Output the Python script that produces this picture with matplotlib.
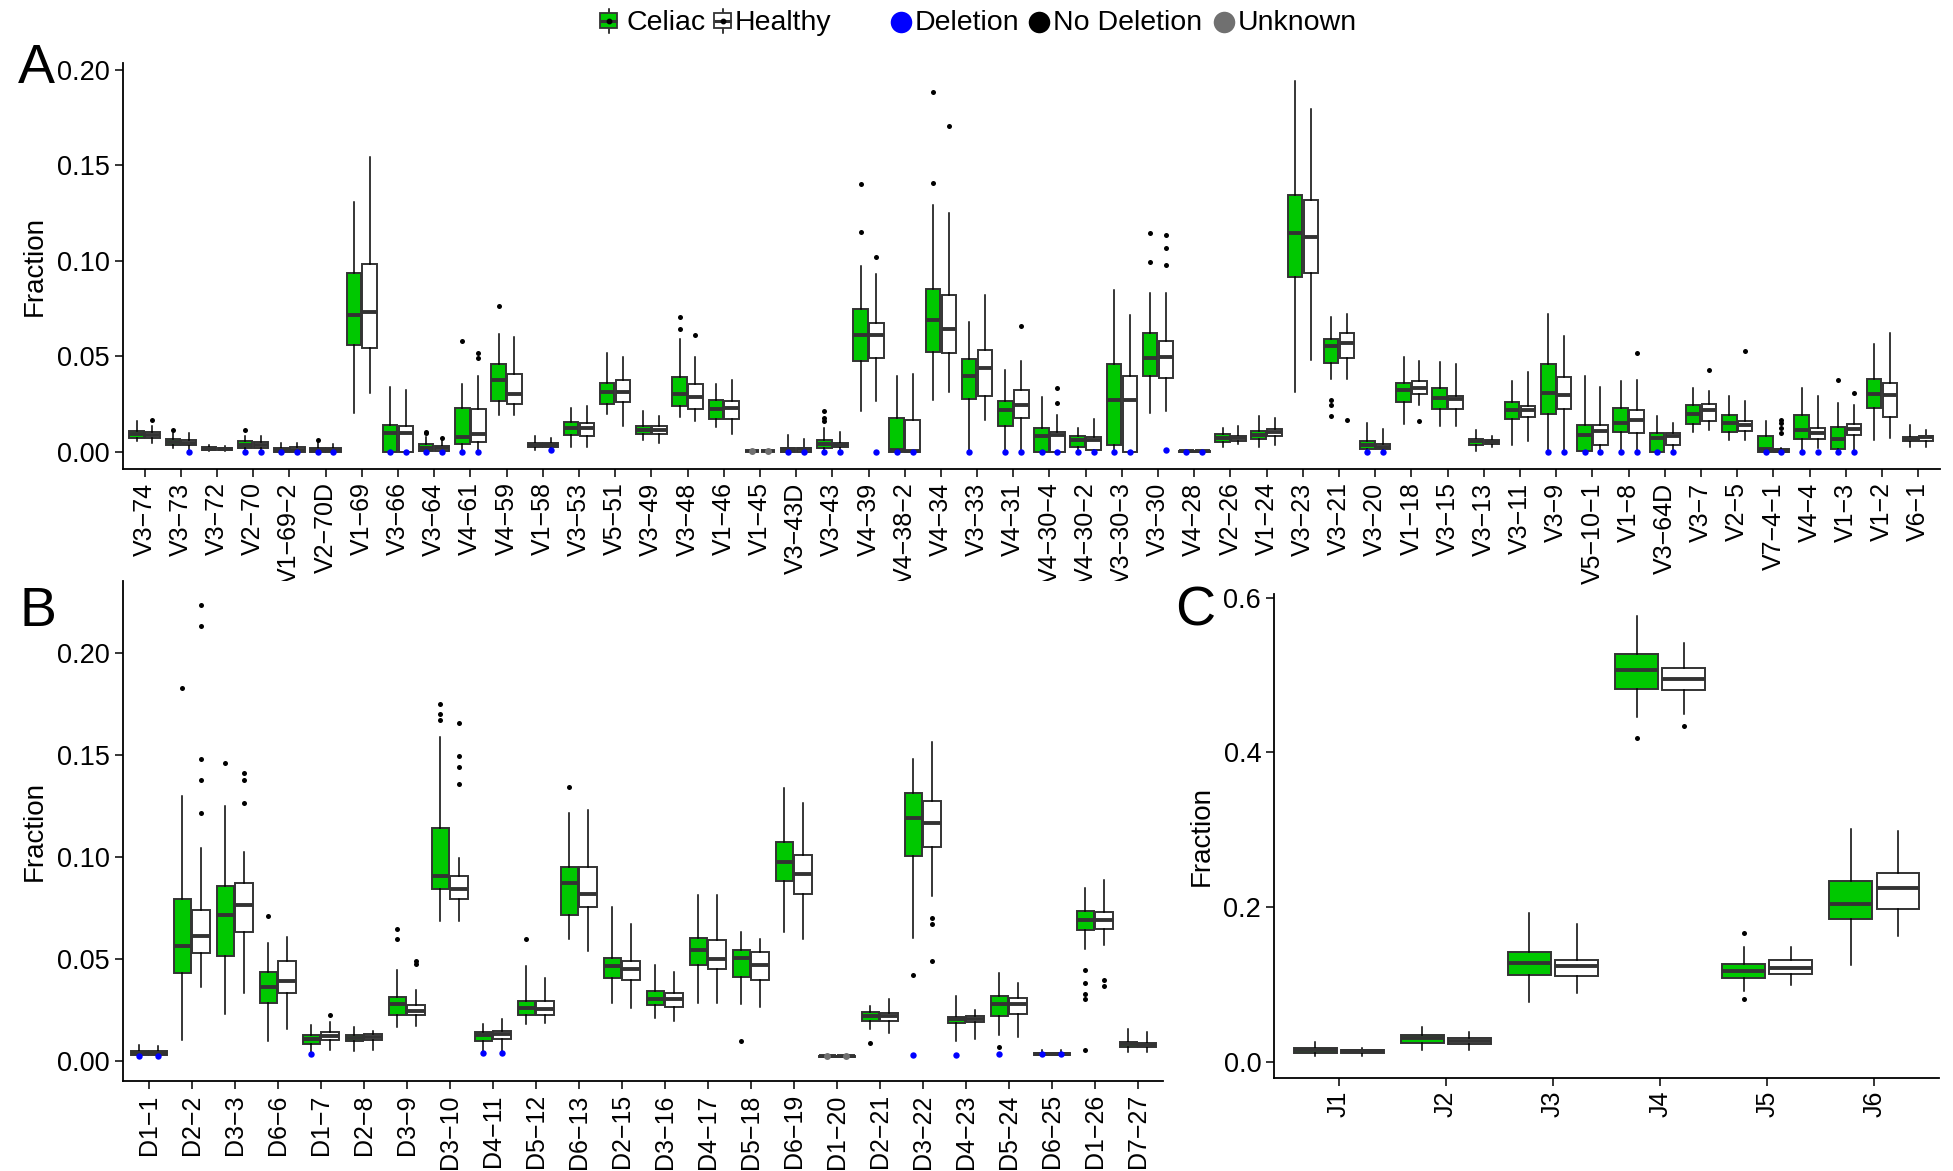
import matplotlib
matplotlib.use('Agg')
import matplotlib.pyplot as plt
from matplotlib.patches import Rectangle
import numpy as np

plt.rcParams['font.family'] = ['Liberation Sans', 'DejaVu Sans']

# ---------------- data: (whisker_low, q1, median, q3, whisker_high) ----------------
A_genes = ["V3-74", "V3-73", "V3-72", "V2-70", "V1-69-2", "V2-70D", "V1-69", "V3-66", "V3-64", "V4-61",
           "V4-59", "V1-58", "V3-53", "V5-51", "V3-49", "V3-48", "V1-46", "V1-45", "V3-43D", "V3-43",
           "V4-39", "V4-38-2", "V4-34", "V3-33", "V4-31", "V4-30-4", "V4-30-2", "V3-30-3", "V3-30", "V4-28",
           "V2-26", "V1-24", "V3-23", "V3-21", "V3-20", "V1-18", "V3-15", "V3-13", "V3-11", "V3-9",
           "V5-10-1", "V1-8", "V3-64D", "V3-7", "V2-5", "V7-4-1", "V4-4", "V1-3", "V1-2", "V6-1"]
A_celiac = [
    (0.0053, 0.0070, 0.0093, 0.0110, 0.0158), (0.0018, 0.0035, 0.0049, 0.0065, 0.0095),
    (0.0003, 0.0009, 0.0015, 0.0023, 0.0035), (0.0, 0.0018, 0.0035, 0.0053, 0.0079),
    (0.0, 0.0, 0.0009, 0.0021, 0.0044), (0.0, 0.0, 0.0009, 0.0021, 0.0050),
    (0.0202, 0.0556, 0.0716, 0.0938, 0.1310), (0.0, 0.0, 0.0096, 0.0140, 0.0339),
    (0.0, 0.0005, 0.0021, 0.0039, 0.0075), (0.0, 0.0040, 0.0075, 0.0228, 0.0356),
    (0.0193, 0.0263, 0.0374, 0.0461, 0.0614), (0.0009, 0.0023, 0.0035, 0.0047, 0.0082),
    (0.0026, 0.0088, 0.0123, 0.0154, 0.0228), (0.0196, 0.0249, 0.0310, 0.0360, 0.0517),
    (0.0061, 0.0091, 0.0114, 0.0135, 0.0210), (0.0181, 0.0237, 0.0303, 0.0389, 0.0588),
    (0.0128, 0.0170, 0.0223, 0.0272, 0.0356), (0.0, 0.0001, 0.0003, 0.0005, 0.0007),
    (0.0, 0.0, 0.0012, 0.0021, 0.0088), (0.0009, 0.0021, 0.0039, 0.0058, 0.0123),
    (0.0214, 0.0474, 0.0609, 0.0745, 0.0970), (0.0, 0.0, 0.0009, 0.0175, 0.0398),
    (0.0268, 0.0523, 0.0688, 0.0854, 0.1294), (0.0, 0.0275, 0.0395, 0.0486, 0.0680),
    (0.0, 0.0135, 0.0216, 0.0267, 0.0430), (0.0, 0.0, 0.0082, 0.0126, 0.0284),
    (0.0, 0.0026, 0.0061, 0.0079, 0.0126), (0.0, 0.0032, 0.0272, 0.0461, 0.0847),
    (0.0202, 0.0395, 0.0491, 0.0623, 0.0833), (0.0, 0.0, 0.0002, 0.0005, 0.0008),
    (0.0023, 0.0049, 0.0070, 0.0091, 0.0123), (0.0026, 0.0067, 0.0088, 0.0110, 0.0184),
    (0.0310, 0.0916, 0.1145, 0.1347, 0.1942), (0.0381, 0.0465, 0.0553, 0.0588, 0.0707),
    (0.0, 0.0014, 0.0035, 0.0053, 0.0149), (0.0146, 0.0260, 0.0324, 0.0360, 0.0495),
    (0.0132, 0.0223, 0.0281, 0.0333, 0.0468), (0.0005, 0.0035, 0.0053, 0.0067, 0.0114),
    (0.0035, 0.0172, 0.0219, 0.0260, 0.0368), (0.0, 0.0196, 0.0307, 0.0460, 0.0719),
    (0.0, 0.0004, 0.0088, 0.0140, 0.0395), (0.0, 0.0102, 0.0149, 0.0228, 0.0368),
    (0.0, 0.0, 0.0070, 0.0096, 0.0188), (0.0100, 0.0146, 0.0196, 0.0242, 0.0333),
    (0.0061, 0.0105, 0.0149, 0.0193, 0.0293), (0.0, 0.0, 0.0012, 0.0079, 0.0158),
    (0.0, 0.0065, 0.0114, 0.0193, 0.0333), (0.0, 0.0014, 0.0065, 0.0128, 0.0254),
    (0.0061, 0.0228, 0.0303, 0.0382, 0.0565), (0.0026, 0.0053, 0.0065, 0.0075, 0.0137)]
A_healthy = [
    (0.0045, 0.0070, 0.0088, 0.0105, 0.0135), (0.0005, 0.0033, 0.0047, 0.0063, 0.0096),
    (0.0005, 0.0010, 0.0015, 0.0020, 0.0030), (0.0, 0.0021, 0.0035, 0.0049, 0.0079),
    (0.0, 0.0, 0.0010, 0.0023, 0.0047), (0.0, 0.0, 0.0009, 0.0020, 0.0040),
    (0.0307, 0.0542, 0.0733, 0.0982, 0.1542), (0.0, 0.0, 0.0096, 0.0135, 0.0321),
    (0.0, 0.0004, 0.0018, 0.0030, 0.0060), (0.0, 0.0049, 0.0093, 0.0223, 0.0398),
    (0.0193, 0.0249, 0.0303, 0.0407, 0.0600), (0.0012, 0.0023, 0.0035, 0.0047, 0.0070),
    (0.0026, 0.0083, 0.0123, 0.0149, 0.0237), (0.0132, 0.0258, 0.0310, 0.0374, 0.0495),
    (0.0047, 0.0093, 0.0114, 0.0135, 0.0188), (0.0161, 0.0225, 0.0284, 0.0356, 0.0495),
    (0.0093, 0.0172, 0.0228, 0.0263, 0.0377), (0.0, 0.0001, 0.0003, 0.0005, 0.0007),
    (0.0, 0.0, 0.0012, 0.0019, 0.0065), (0.0009, 0.0023, 0.0035, 0.0047, 0.0105),
    (0.0263, 0.0488, 0.0609, 0.0675, 0.0930), (0.0, 0.0, 0.0005, 0.0167, 0.0409),
    (0.0310, 0.0514, 0.0640, 0.0819, 0.1249), (0.0163, 0.0290, 0.0439, 0.0531, 0.0821),
    (0.0, 0.0175, 0.0246, 0.0321, 0.0477), (0.0, 0.0, 0.0088, 0.0102, 0.0193),
    (0.0, 0.0009, 0.0061, 0.0074, 0.0170), (0.0, 0.0, 0.0272, 0.0398, 0.0716),
    (0.0210, 0.0386, 0.0495, 0.0579, 0.0833), (0.0, 0.0, 0.0002, 0.0005, 0.0008),
    (0.0040, 0.0056, 0.0070, 0.0084, 0.0132), (0.0035, 0.0079, 0.0105, 0.0119, 0.0175),
    (0.0479, 0.0935, 0.1123, 0.1319, 0.1794), (0.0381, 0.0491, 0.0570, 0.0619, 0.0719),
    (0.0, 0.0012, 0.0026, 0.0039, 0.0118), (0.0246, 0.0302, 0.0333, 0.0368, 0.0474),
    (0.0132, 0.0223, 0.0275, 0.0293, 0.0461), (0.0026, 0.0040, 0.0051, 0.0061, 0.0082),
    (0.0053, 0.0181, 0.0216, 0.0237, 0.0417), (0.0, 0.0225, 0.0298, 0.0391, 0.0605),
    (0.0, 0.0032, 0.0110, 0.0137, 0.0339), (0.0, 0.0096, 0.0167, 0.0216, 0.0374),
    (0.0, 0.0035, 0.0079, 0.0096, 0.0149), (0.0114, 0.0161, 0.0219, 0.0249, 0.0316),
    (0.0061, 0.0109, 0.0140, 0.0161, 0.0263), (0.0, 0.0, 0.0005, 0.0012, 0.0020),
    (0.0018, 0.0067, 0.0096, 0.0123, 0.0289), (0.0, 0.0088, 0.0119, 0.0146, 0.0242),
    (0.0070, 0.0181, 0.0298, 0.0360, 0.0619), (0.0026, 0.0056, 0.0074, 0.0084, 0.0114)]
A_outliers = [
    ("V3-74", "H", 0.0167), ("V3-73", "C", 0.0114), ("V2-70", "C", 0.0114), ("V2-70D", "C", 0.0061),
    ("V3-64", "C", 0.0105), ("V3-64", "C", 0.0095), ("V3-64", "H", 0.0070),
    ("V4-61", "C", 0.0582), ("V4-61", "H", 0.0517), ("V4-61", "H", 0.0488), ("V4-59", "C", 0.0763),
    ("V3-48", "C", 0.0644), ("V3-48", "C", 0.0707), ("V3-48", "H", 0.0610),
    ("V3-43", "C", 0.0214), ("V3-43", "C", 0.0175), ("V3-43", "C", 0.0160),
    ("V4-39", "C", 0.1152), ("V4-39", "C", 0.1403), ("V4-39", "H", 0.1021),
    ("V4-34", "C", 0.1407), ("V4-34", "C", 0.1882), ("V4-34", "H", 0.1705), ("V4-31", "H", 0.0658),
    ("V4-30-4", "H", 0.0333), ("V4-30-4", "H", 0.0254),
    ("V3-30", "C", 0.1144), ("V3-30", "C", 0.0995), ("V3-30", "H", 0.1135), ("V3-30", "H", 0.1065),
    ("V3-30", "H", 0.0979), ("V3-21", "C", 0.0268), ("V3-21", "C", 0.0246), ("V3-21", "C", 0.0184),
    ("V3-21", "H", 0.0167), ("V1-18", "H", 0.0158), ("V1-8", "H", 0.0517), ("V3-7", "H", 0.0426),
    ("V2-5", "H", 0.0526), ("V7-4-1", "H", 0.0167), ("V7-4-1", "H", 0.0149), ("V7-4-1", "H", 0.0123),
    ("V7-4-1", "H", 0.0096), ("V1-3", "C", 0.0374), ("V1-3", "H", 0.0307)]
A_deletion = [
    ("V3-73", "H", 0.0), ("V2-70", "C", 0.0), ("V2-70", "H", 0.0), ("V1-69-2", "C", 0.0), ("V1-69-2", "H", 0.0),
    ("V2-70D", "C", 0.0), ("V2-70D", "H", 0.0), ("V3-66", "C", 0.0), ("V3-66", "H", 0.0),
    ("V3-64", "C", 0.0), ("V3-64", "H", 0.0), ("V4-61", "C", 0.0), ("V4-61", "H", 0.0), ("V1-58", "H", 0.001),
    ("V3-43D", "C", 0.0), ("V3-43D", "H", 0.0), ("V3-43", "C", 0.0), ("V3-43", "H", 0.0), ("V4-39", "H", 0.0),
    ("V4-38-2", "C", 0.0), ("V4-38-2", "H", 0.0), ("V3-33", "C", 0.0), ("V4-31", "C", 0.0), ("V4-31", "H", 0.0),
    ("V4-30-4", "C", 0.0), ("V4-30-4", "H", 0.0), ("V4-30-2", "C", 0.0), ("V4-30-2", "H", 0.0),
    ("V3-30-3", "C", 0.0), ("V3-30-3", "H", 0.0), ("V3-30", "H", 0.0007), ("V4-28", "C", 0.0), ("V4-28", "H", 0.0),
    ("V3-20", "C", 0.0), ("V3-20", "H", 0.0), ("V3-9", "C", 0.0), ("V3-9", "H", 0.0),
    ("V5-10-1", "C", 0.0), ("V5-10-1", "H", 0.0), ("V1-8", "C", 0.0), ("V1-8", "H", 0.0),
    ("V3-64D", "C", 0.0), ("V3-64D", "H", 0.0), ("V7-4-1", "C", 0.0), ("V7-4-1", "H", 0.0),
    ("V4-4", "C", 0.0), ("V4-4", "H", 0.0), ("V1-3", "C", 0.0), ("V1-3", "H", 0.0)]
A_unknown = [("V1-45", "C", 0.0003), ("V1-45", "H", 0.0003)]

B_genes = ["D1-1", "D2-2", "D3-3", "D6-6", "D1-7", "D2-8", "D3-9", "D3-10", "D4-11", "D5-12", "D6-13", "D2-15",
           "D3-16", "D4-17", "D5-18", "D6-19", "D1-20", "D2-21", "D3-22", "D4-23", "D5-24", "D6-25", "D1-26", "D7-27"]
B_celiac = [
    (0.0015, 0.0028, 0.0038, 0.0047, 0.0081), (0.0103, 0.0433, 0.0563, 0.0794, 0.1300),
    (0.0231, 0.0516, 0.0715, 0.0859, 0.1249), (0.0099, 0.0287, 0.0362, 0.0437, 0.0578),
    (0.0045, 0.0086, 0.0109, 0.0128, 0.0178), (0.0047, 0.0096, 0.0113, 0.0128, 0.0165),
    (0.0165, 0.0225, 0.0278, 0.0315, 0.0446), (0.0685, 0.0846, 0.0910, 0.1144, 0.1590),
    (0.0045, 0.0099, 0.0128, 0.0141, 0.0180), (0.0184, 0.0225, 0.0259, 0.0296, 0.0465),
    (0.0597, 0.0719, 0.0872, 0.0953, 0.1219), (0.0287, 0.0409, 0.0465, 0.0507, 0.0756),
    (0.0212, 0.0274, 0.0306, 0.0343, 0.0469), (0.0287, 0.0471, 0.0544, 0.0606, 0.0816),
    (0.0281, 0.0413, 0.0507, 0.0544, 0.0634), (0.0634, 0.0882, 0.0977, 0.1075, 0.1338),
    (0.0018, 0.0020, 0.0023, 0.0026, 0.0028), (0.0156, 0.0197, 0.0221, 0.0240, 0.0268),
    (0.0606, 0.1006, 0.1191, 0.1313, 0.1482), (0.0099, 0.0189, 0.0206, 0.0218, 0.0319),
    (0.0128, 0.0221, 0.0281, 0.0321, 0.0431), (0.0025, 0.0030, 0.0034, 0.0038, 0.0056),
    (0.0550, 0.0643, 0.0690, 0.0737, 0.0850), (0.0043, 0.0071, 0.0084, 0.0094, 0.0156)]
B_healthy = [
    (0.0015, 0.0028, 0.0038, 0.0047, 0.0075), (0.0362, 0.0531, 0.0615, 0.0741, 0.1047),
    (0.0334, 0.0634, 0.0765, 0.0874, 0.1028), (0.0156, 0.0334, 0.0394, 0.0493, 0.0610),
    (0.0053, 0.0103, 0.0124, 0.0141, 0.0193), (0.0053, 0.0103, 0.0118, 0.0131, 0.0146),
    (0.0174, 0.0225, 0.0246, 0.0274, 0.0349), (0.0685, 0.0797, 0.0844, 0.0906, 0.0994),
    (0.0050, 0.0109, 0.0131, 0.0146, 0.0208), (0.0188, 0.0227, 0.0253, 0.0296, 0.0409),
    (0.0540, 0.0756, 0.0822, 0.0953, 0.1234), (0.0259, 0.0396, 0.0450, 0.0493, 0.0672),
    (0.0197, 0.0265, 0.0302, 0.0334, 0.0437), (0.0287, 0.0452, 0.0503, 0.0593, 0.0816),
    (0.0263, 0.0396, 0.0469, 0.0535, 0.0597), (0.0597, 0.0822, 0.0919, 0.1009, 0.1266),
    (0.0018, 0.0020, 0.0023, 0.0026, 0.0028), (0.0137, 0.0197, 0.0221, 0.0236, 0.0302),
    (0.0812, 0.1052, 0.1169, 0.1276, 0.1566), (0.0109, 0.0193, 0.0208, 0.0221, 0.0250),
    (0.0118, 0.0231, 0.0278, 0.0310, 0.0381), (0.0025, 0.0030, 0.0034, 0.0038, 0.0056),
    (0.0568, 0.0647, 0.0690, 0.0732, 0.0887), (0.0043, 0.0069, 0.0081, 0.0090, 0.0141)]
B_outliers = [
    ("D2-2", "C", 0.1829), ("D2-2", "H", 0.2238), ("D2-2", "H", 0.2135), ("D2-2", "H", 0.1482),
    ("D2-2", "H", 0.1379), ("D2-2", "H", 0.1219), ("D3-3", "C", 0.1463), ("D3-3", "H", 0.1413),
    ("D3-3", "H", 0.1379), ("D3-3", "H", 0.1266), ("D6-6", "C", 0.0713), ("D1-7", "H", 0.0225),
    ("D3-9", "C", 0.0649), ("D3-9", "C", 0.0597), ("D3-9", "H", 0.0493), ("D3-9", "H", 0.0478),
    ("D3-10", "C", 0.1754), ("D3-10", "C", 0.1703), ("D3-10", "C", 0.1675), ("D3-10", "H", 0.1657),
    ("D3-10", "H", 0.1497), ("D3-10", "H", 0.1441), ("D3-10", "H", 0.1360), ("D5-12", "C", 0.0600),
    ("D6-13", "C", 0.1343), ("D5-18", "C", 0.0099), ("D2-21", "C", 0.0090), ("D3-22", "C", 0.0424),
    ("D3-22", "H", 0.0700), ("D3-22", "H", 0.0672), ("D3-22", "H", 0.0490), ("D5-24", "C", 0.0071),
    ("D1-26", "C", 0.0446), ("D1-26", "C", 0.0381), ("D1-26", "C", 0.0328), ("D1-26", "C", 0.0306),
    ("D1-26", "C", 0.0056), ("D1-26", "H", 0.0400), ("D1-26", "H", 0.0366)]
B_deletion = [
    ("D1-1", "C", 0.0025), ("D1-1", "H", 0.0025), ("D1-7", "C", 0.0034), ("D4-11", "C", 0.0039),
    ("D4-11", "H", 0.0039), ("D3-22", "C", 0.0030), ("D4-23", "C", 0.0030), ("D5-24", "C", 0.0034),
    ("D6-25", "C", 0.0034), ("D6-25", "H", 0.0034)]
B_unknown = [("D1-20", "C", 0.0023), ("D1-20", "H", 0.0023)]

C_genes = ["J1", "J2", "J3", "J4", "J5", "J6"]
C_celiac = [(0.0074, 0.0114, 0.0148, 0.0173, 0.0260), (0.0148, 0.0237, 0.0312, 0.0341, 0.0455),
            (0.0767, 0.1128, 0.1276, 0.1420, 0.1929), (0.4451, 0.4822, 0.5070, 0.5277, 0.5762),
            (0.0915, 0.1088, 0.1172, 0.1261, 0.1484), (0.1246, 0.1840, 0.2043, 0.2339, 0.3007)]
C_healthy = [(0.0074, 0.0109, 0.0134, 0.0158, 0.0180), (0.0148, 0.0232, 0.0272, 0.0307, 0.0380),
             (0.0890, 0.1103, 0.1237, 0.1321, 0.1780), (0.4501, 0.4808, 0.4946, 0.5094, 0.5416),
             (0.0989, 0.1138, 0.1212, 0.1311, 0.1484), (0.1632, 0.1978, 0.2241, 0.2438, 0.2982)]
C_outliers = [("J4", "C", 0.4180), ("J4", "H", 0.4338), ("J5", "C", 0.1667), ("J5", "C", 0.0816)]
C_deletion = []
C_unknown = []

A_yticks = [0.0, 0.05, 0.10, 0.15, 0.20]
B_yticks = [0.0, 0.05, 0.10, 0.15, 0.20]
C_yticks = [0.0, 0.2, 0.4, 0.6]

# ---------------- style ----------------
W, H = 1953, 1171
GREEN = '#00C800'
EDGE = '#333333'
BLUE = '#0000FF'
GREY = '#707070'
OFF = {"C": -0.22, "H": 0.22}
MINUS = '\u2212'

fig = plt.figure(figsize=(W / 100, H / 100), dpi=100)


def ax_rect(l, t, r, b):
    return [l / W, 1 - b / H, (r - l) / W, (b - t) / H]


def panel(ax, genes, cel, hea, outl, dele, unk, ylim, yticks, fmt):
    n = len(genes)
    xs = np.arange(n)
    idx = {g: i for i, g in enumerate(genes)}
    for stats, grp, face in [(cel, "C", GREEN), (hea, "H", 'white')]:
        bst = [dict(whislo=s[0], q1=s[1], med=s[2], q3=s[3], whishi=s[4], fliers=[]) for s in stats]
        ax.bxp(bst, positions=xs + OFF[grp], widths=0.40, patch_artist=True, showcaps=False,
               showfliers=False, manage_ticks=False,
               boxprops=dict(facecolor=face, edgecolor=EDGE, linewidth=1.4),
               medianprops=dict(color=EDGE, linewidth=2.8, solid_capstyle='butt'),
               whiskerprops=dict(color='black', linewidth=1.1))
    for pts, col, ms in [(outl, 'black', 3.6), (dele, BLUE, 4.6), (unk, GREY, 5.0)]:
        if pts:
            px = [idx[g] + OFF[grp] for g, grp, v in pts]
            py = [v for g, grp, v in pts]
            ax.plot(px, py, 'o', color=col, ms=ms, mec='none', zorder=5, clip_on=False)
    ax.set_xlim(-0.6, n - 0.4)
    ax.set_ylim(*ylim)
    ax.set_xticks(xs)
    ax.set_xticklabels([g.replace('-', MINUS) for g in genes], rotation=90, fontsize=18)
    ax.set_yticks(yticks)
    ax.set_yticklabels([fmt.format(t) for t in yticks], fontsize=19.5)
    for s in ['top', 'right']:
        ax.spines[s].set_visible(False)
    for s in ['left', 'bottom']:
        ax.spines[s].set_linewidth(1.3)
        ax.spines[s].set_color('black')
    ax.tick_params(axis='both', length=5.5, width=1.1, color='black', labelcolor='black', pad=4)


axA = fig.add_axes(ax_rect(122.8, 63.3, 1940, 469.3))
panel(axA, A_genes, A_celiac, A_healthy, A_outliers, A_deletion, A_unknown,
      (-0.0093, 0.2035), A_yticks, '{:.2f}')
axB = fig.add_axes(ax_rect(122.8, 580.7, 1163.4, 1081))
panel(axB, B_genes, B_celiac, B_healthy, B_outliers, B_deletion, B_unknown,
      (-0.0098, 0.2357), B_yticks, '{:.2f}')
axC = fig.add_axes(ax_rect(1274.4, 593.7, 1938.7, 1077.8))
panel(axC, C_genes, C_celiac, C_healthy, C_outliers, C_deletion, C_unknown,
      (-0.0207, 0.605), C_yticks, '{:.1f}')

# axis titles and panel letters
for (xc, yc) in [(35, 266), (35, 831), (1202, 836)]:
    fig.text(xc / W, 1 - yc / H, 'Fraction', rotation=90, ha='center', va='center', fontsize=20)
for (lx, by, lab) in [(18, 83, 'A'), (20, 626, 'B'), (1175, 625, 'C')]:
    fig.text(lx / W, 1 - by / H, lab, ha='left', va='baseline', fontsize=40)

# ---------------- legend (top) ----------------
lg = fig.add_axes([0, 0, 1, 1], facecolor='none')
lg.set_xlim(0, W)
lg.set_ylim(H, 0)
lg.axis('off')


def box_key(x0, face):
    w = 17
    lg.plot([x0 + w / 2, x0 + w / 2], [8.5, 32.5], color='black', lw=1.1)
    lg.add_patch(Rectangle((x0, 13), w, 15, facecolor=face, edgecolor=EDGE, lw=1.3, zorder=3))
    lg.plot([x0, x0 + w], [20.5, 20.5], color=EDGE, lw=2.2, zorder=4, solid_capstyle='butt')
    lg.plot([x0 + w / 2], [20.5], 'o', color='black', ms=3.2, zorder=5)


box_key(600, GREEN)
lg.text(627, 30.5, 'Celiac', fontsize=20.5, va='baseline', ha='left')
box_key(714, 'white')
lg.text(735, 30.5, 'Healthy', fontsize=20.5, va='baseline', ha='left')
for xc, col, lab in [(901, BLUE, 'Deletion'), (1039, 'black', 'No Deletion'), (1224, GREY, 'Unknown')]:
    lg.plot([xc], [22], 'o', color=col, ms=15.5, mec='none')
    lg.text(xc + 14, 30.5, lab, fontsize=20.5, va='baseline', ha='left')

fig.savefig('out.png', dpi=100)
